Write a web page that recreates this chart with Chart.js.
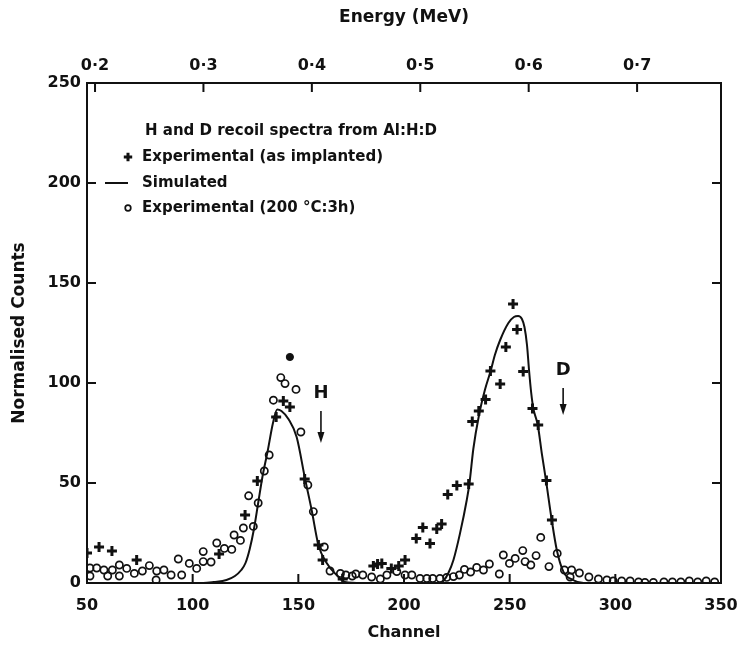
<!DOCTYPE html>
<html>
<head>
<meta charset="utf-8">
<script src="https://cdn.jsdelivr.net/npm/chart.js@4/dist/chart.umd.min.js"></script>
<style>
  html, body { margin: 0; padding: 0; background: #fff; }
</style>
</head>
<body>
<canvas id="recoilChart" width="743" height="645"></canvas>
<script>
// =========================
// DATA
// =========================
// + Experimental (as implanted)
const implantedCh = [50, 55.7, 61.8, 73.5, 112.5, 124.8, 130.6, 139.5, 142.9, 146, 153, 159.5, 161.5, 171,
  185.5, 187.5, 189.5, 194, 197.5, 200.5, 205.8, 208.9, 212.3, 215.5, 217.8, 220.7, 225, 230.6,
  232.3, 235.4, 238.6, 240.9, 245.5, 248.2, 251.6, 253.5, 256.4, 260.8, 263.5, 267.4, 270];
const implantedCounts = [15, 18, 16, 11.5, 14.5, 34, 51, 83, 91, 88, 52, 19, 11.5, 2,
  8.5, 9.5, 9.8, 7.3, 8.5, 11.5, 22.3, 27.8, 19.8, 27, 29.5, 44.3, 48.7, 49.5,
  80.7, 86, 91.8, 106, 99.5, 118, 139.5, 126.8, 105.7, 87.3, 79, 51.3, 31.5];

// o Experimental (200 C : 3h)
const annealedCh = [51.4, 51.4, 54.6, 58, 59.8, 62, 65.3, 65.3, 68.8, 72.4, 76.2, 79.5, 82.7, 83, 86.4, 89.8,
  93.2, 94.8, 98.4, 101.9, 105, 105, 108.7, 111.4, 115, 118.5, 119.6, 122.6, 124, 126.5, 128.7, 131,
  133.9, 136.2, 138.2, 141.7, 143.7, 148.9, 151.2, 154.5, 157.1, 162.3, 165, 169.9, 172.5, 175.5, 177.2,
  180.5, 184.7, 188.8, 191.9, 196.6, 200.5, 203.7, 207.6, 210.8, 213.6, 217, 220.2, 223.4, 226.2,
  228.6, 231.5, 234.4, 237.6, 240.4, 245.1, 247, 249.9, 252.6, 256.2, 257.3, 260, 262.5, 264.7,
  268.6, 272.5, 275.9, 278.6, 279.3, 283, 287.5, 292, 296, 299, 303, 307, 311, 314, 318, 323, 327,
  331, 335, 339, 343, 347];
const annealedCounts = [7.5, 3.5, 7.5, 6.5, 3.5, 6.5, 9, 3.5, 7.3, 4.8, 6, 8.7, 1.5, 6, 6.5, 4,
  12, 4, 9.8, 7.3, 15.7, 10.7, 10.5, 20, 17.3, 16.8, 24, 21.3, 27.5, 43.6, 28.3, 40,
  56, 64, 91.4, 102.7, 99.7, 96.8, 75.5, 49, 35.7, 18, 6, 4.8, 4, 3.5, 4.5,
  4, 3, 2, 4, 5.7, 4, 4, 2.3, 2.3, 2.3, 2.3, 2.8, 3.2, 4,
  6.8, 5.5, 7.8, 6.5, 9.5, 4.5, 14, 9.8, 12.3, 16.2, 10.7, 9, 13.7, 22.8,
  8.2, 14.8, 6.5, 3, 6.5, 5, 3, 2, 1.5, 1, 1, 1, 0.5, 0.3, 0.3, 0.5, 0.5,
  0.5, 1, 0.5, 1, 0.5];
// the one solid dot above the H peak
const solidDotCh = [146];
const solidDotCounts = [113];

// — Simulated
const simCh = [50, 105, 110, 116, 120, 123, 125, 127, 129, 131, 133, 135.5, 138, 140, 142, 145.3, 149.2,
  153.2, 156.3, 159.5, 163.4, 168.1, 172, 180, 217, 219, 221, 223.4, 226.5, 229.7, 231, 232.8,
  235.5, 238.4, 241, 243, 245.5, 249.4, 252, 254, 255.8, 257, 258.2, 259.2, 260.2, 261.2, 263.3,
  265.2, 267.2, 269.9, 272.3, 275.4, 280, 285, 350];
const simCounts = [0, 0, 0.5, 1.5, 3.5, 6.5, 10, 17, 27, 40, 53, 66, 80, 86.8, 86, 82, 73,
  52, 36.5, 19, 10, 4, 0.5, 0, 0, 1.5, 5, 11.5, 24.8, 41.5, 50, 67,
  84, 97, 106, 114, 121.5, 130, 133, 133.5, 132, 128, 119, 106, 95, 87.3, 79,
  64.8, 51.2, 31.5, 16.5, 5.7, 1.5, 0, 0];

// axis ticks
const channelTicks = [50, 100, 150, 200, 250, 300, 350];
const countTicks = [0, 50, 100, 150, 200, 250];
const energyTicks = [0.2, 0.3, 0.4, 0.5, 0.6, 0.7];
// energy calibration of the top axis: 0.2 MeV sits at channel 53.8, 0.1 MeV per 51.3 channels
const E_CH0 = 53.8, E_AT_CH0 = 0.2, E_PER_CH = 0.1 / 51.3;
const chToE = ch => E_AT_CH0 + (ch - E_CH0) * E_PER_CH;

// peak markers (label, channel, counts of label, arrow top, arrow tip)
const peakMarks = [
  { text: 'H', ch: 160.7, y: 95, from: 86, to: 70 },
  { text: 'D', ch: 275.3, y: 106.5, from: 97.5, to: 84 }
];

const pts = (xs, ys) => xs.map((x, i) => ({ x: x, y: ys[i] }));

// =========================
// STYLE
// =========================
const INK = '#111111';
const FONT = 'DejaVu Sans';
const tickFont = { family: FONT, size: 16, weight: 'bold' };
const titleFont = { family: FONT, size: 16, weight: 'bold' };
const bigTitleFont = { family: FONT, size: 17, weight: 'bold' };

// keep the plot box where the figure has it (no room reserved for edge labels)
const noEdgePad = s => { s.paddingLeft = 0; s.paddingRight = 0; };

// frame, inward ticks, legend block and H / D arrows
const paperPlugin = {
  id: 'paper',
  afterDraw(chart) {
    const { ctx, chartArea: a, scales } = chart;
    const x = scales.x, y = scales.y, top = scales.xTop;
    const tl = 9;
    ctx.save();
    ctx.strokeStyle = INK;
    ctx.lineWidth = 2;
    ctx.strokeRect(a.left, a.top, a.right - a.left, a.bottom - a.top);

    ctx.beginPath();
    countTicks.slice(1, -1).forEach(v => {
      const py = y.getPixelForValue(v);
      ctx.moveTo(a.left, py); ctx.lineTo(a.left + tl, py);
      ctx.moveTo(a.right, py); ctx.lineTo(a.right - tl, py);
    });
    channelTicks.slice(1, -1).forEach(v => {
      const px = x.getPixelForValue(v);
      ctx.moveTo(px, a.bottom); ctx.lineTo(px, a.bottom - tl);
    });
    energyTicks.forEach(v => {
      const px = top.getPixelForValue(v);
      ctx.moveTo(px, a.top); ctx.lineTo(px, a.top + tl);
    });
    ctx.stroke();

    // legend block
    const lx = a.left + 41, tx = a.left + 55;
    ctx.fillStyle = INK;
    ctx.font = 'bold 15px ' + FONT;
    ctx.textBaseline = 'middle';
    ctx.textAlign = 'left';
    ctx.fillText('H and D recoil spectra from Al:H:D', a.left + 58, a.top + 48);
    const rows = [
      { ds: 1, text: 'Experimental (as implanted)', dy: 74 },
      { ds: 0, text: 'Simulated', dy: 100 },
      { ds: 2, text: 'Experimental (200 \u00B0C:3h)', dy: 125 }
    ];
    rows.forEach(r => {
      const d = chart.data.datasets[r.ds];
      const cy = a.top + r.dy;
      if (d.showLine) {
        ctx.lineWidth = 2;
        ctx.beginPath();
        ctx.moveTo(lx - 23, cy); ctx.lineTo(lx, cy);
        ctx.stroke();
      } else {
        ctx.lineWidth = d.borderWidth;
        ctx.fillStyle = d.backgroundColor;
        Chart.helpers.drawPoint(ctx, {
          pointStyle: d.pointStyle, radius: d.pointRadius - 0.8, rotation: 0, borderWidth: d.borderWidth
        }, lx, cy);
      }
      ctx.fillStyle = INK;
      ctx.fillText(r.text, tx, cy);
    });

    // H and D markers
    ctx.font = 'bold 18px ' + FONT;
    ctx.textAlign = 'center';
    ctx.lineWidth = 1.6;
    peakMarks.forEach(m => {
      const px = x.getPixelForValue(m.ch);
      ctx.fillText(m.text, px, y.getPixelForValue(m.y));
      const y0 = y.getPixelForValue(m.from), y1 = y.getPixelForValue(m.to);
      ctx.beginPath();
      ctx.moveTo(px, y0); ctx.lineTo(px, y1 - 6);
      ctx.stroke();
      ctx.beginPath();
      ctx.moveTo(px - 3.5, y1 - 11); ctx.lineTo(px + 3.5, y1 - 11); ctx.lineTo(px, y1);
      ctx.closePath();
      ctx.fill();
    });
    ctx.restore();
  }
};

// =========================
// CHART
// =========================
new Chart(document.getElementById('recoilChart'), {
  type: 'scatter',
  data: {
    datasets: [
      {
        label: 'Simulated',
        data: pts(simCh, simCounts),
        showLine: true,
        cubicInterpolationMode: 'monotone',
        borderColor: INK,
        borderWidth: 2,
        pointRadius: 0
      },
      {
        label: 'Experimental (as implanted)',
        data: pts(implantedCh, implantedCounts),
        pointStyle: 'cross',
        pointRadius: 5,
        borderWidth: 3,
        borderColor: INK,
        backgroundColor: INK
      },
      {
        label: 'Experimental (200 °C:3h)',
        data: pts(annealedCh, annealedCounts),
        pointStyle: 'circle',
        pointRadius: 3.6,
        borderWidth: 1.7,
        borderColor: INK,
        backgroundColor: 'rgba(255,255,255,0)'
      },
      {
        label: 'solid',
        data: pts(solidDotCh, solidDotCounts),
        pointStyle: 'circle',
        pointRadius: 3.6,
        borderWidth: 1,
        borderColor: INK,
        backgroundColor: INK
      }
    ]
  },
  options: {
    responsive: false,
    animation: false,
    layout: { padding: { left: 0, right: 22, top: 0, bottom: 0 } },
    plugins: { legend: { display: false }, tooltip: { enabled: false } },
    scales: {
      x: {
        type: 'linear', position: 'bottom', min: 50, max: 350,
        afterBuildTicks: s => { s.ticks = channelTicks.map(v => ({ value: v })); },
        afterFit: s => { s.height = 62; noEdgePad(s); },
        grid: { display: false, drawTicks: false },
        border: { display: false },
        ticks: { font: tickFont, color: INK, padding: 13, maxRotation: 0 },
        title: { display: true, text: 'Channel', font: titleFont, color: INK, padding: { top: 0, bottom: 3 } }
      },
      xTop: {
        type: 'linear', position: 'top', min: chToE(50), max: chToE(350),
        afterBuildTicks: s => { s.ticks = energyTicks.map(v => ({ value: v })); },
        afterFit: s => { s.height = 83; noEdgePad(s); },
        grid: { display: false, drawTicks: false },
        border: { display: false },
        ticks: {
          font: tickFont, color: INK, padding: 8, maxRotation: 0,
          callback: v => v.toFixed(1).replace('.', '\u00B7')
        },
        title: { display: true, text: 'Energy (MeV)', font: bigTitleFont, color: INK, padding: { top: 7, bottom: 0 } }
      },
      y: {
        type: 'linear', min: 0, max: 250,
        afterBuildTicks: s => { s.ticks = countTicks.map(v => ({ value: v })); },
        afterFit: s => { s.width = 87; s.paddingTop = 0; s.paddingBottom = 0; },
        grid: { display: false, drawTicks: false },
        border: { display: false },
        ticks: { font: tickFont, color: INK, padding: 6 },
        title: { display: true, text: 'Normalised Counts', font: bigTitleFont, color: INK, padding: { top: 9, bottom: 0 } }
      }
    }
  },
  plugins: [paperPlugin]
});
</script>
</body>
</html>
